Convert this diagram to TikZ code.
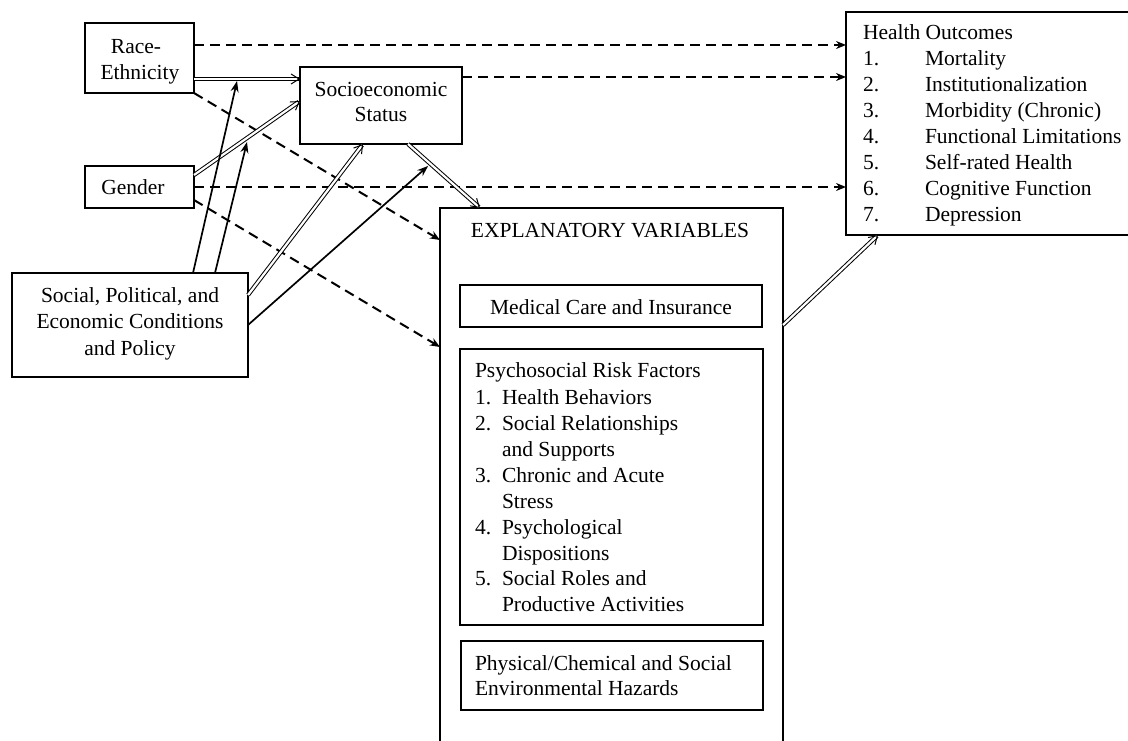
\documentclass[tikz,border=0pt]{standalone}
\usepackage{fontspec}
\setmainfont{Liberation Serif}
\usetikzlibrary{arrows.meta,calc}
\begin{document}
\begin{tikzpicture}[x=1pt,y=-1pt,
  box/.style={draw, line width=2.2pt, inner sep=0pt, outer sep=0pt},
  txt/.style={inner sep=0pt, outer sep=0pt, font=\fontsize{21.5}{26}\selectfont},
  dasharrow/.style={line width=2pt, dash pattern=on 10pt off 6pt, -{Stealth[length=10pt,width=8pt]}},
  solidarrow/.style={line width=1.7pt, -{Stealth[length=11pt,width=8pt]}},
  dblarrow/.style={double, double distance=2.2pt, line width=1pt, -{Straight Barb[length=8pt,width=10pt]}},
]
\useasboundingbox (0,0) rectangle (1128,741);
\clip (0,0) rectangle (1128,741);

% boxes
\node[box, minimum width=109pt, minimum height=70pt] (race) at (139.5,58) {};
\node[box, minimum width=109pt, minimum height=42pt] (gender) at (139.5,187) {};
\node[box, minimum width=162pt, minimum height=77pt] (ses) at (381,105.5) {};
\node[box, minimum width=236pt, minimum height=104pt] (social) at (130,325) {};
\node[box, minimum width=343pt, minimum height=592pt] (expl) at (611.5,504) {};
\node[box, minimum width=302pt, minimum height=42pt] (med) at (611,306) {};
\node[box, minimum width=303pt, minimum height=276pt] (psych) at (611.5,487) {};
\node[box, minimum width=302pt, minimum height=69pt] (phys) at (612,675.5) {};
\node[box, minimum width=300pt, minimum height=223pt] (health) at (996,123.5) {};

% texts
\node[txt, anchor=base] (raceA) at (136,54) {Race-};
\node[txt, anchor=base] (raceB) at (140,80) {Ethnicity};
\node[txt, anchor=base] (genderT) at (133,194) {Gender};
\node[txt, anchor=base] (sesA) at (381,97) {Socioeconomic};
\node[txt, anchor=base] (sesB) at (381,122) {Status};
\node[txt, anchor=base] (socA) at (130,302) {Social, Political, and};
\node[txt, anchor=base] (socB) at (130,328) {Economic Conditions};
\node[txt, anchor=base] (socC) at (130,355) {and Policy};
\node[txt, anchor=base] (explT) at (610,237) {EXPLANATORY VARIABLES};
\node[txt, anchor=base] (medT) at (611,314) {Medical Care and Insurance};

\node[txt, anchor=base west] (psT) at (475,377) {Psychosocial Risk Factors};
\node[txt, anchor=base west] (ps1) at (475,404) {1.};
\node[txt, anchor=base west] (ps1t) at (502,404) {Health Behaviors};
\node[txt, anchor=base west] (ps2) at (475,430) {2.};
\node[txt, anchor=base west] (ps2t) at (502,430) {Social Relationships};
\node[txt, anchor=base west] (ps2u) at (502,456) {and Supports};
\node[txt, anchor=base west] (ps3) at (475,482) {3.};
\node[txt, anchor=base west] (ps3t) at (502,482) {Chronic and Acute};
\node[txt, anchor=base west] (ps3u) at (502,508) {Stress};
\node[txt, anchor=base west] (ps4) at (475,534) {4.};
\node[txt, anchor=base west] (ps4t) at (502,534) {Psychological};
\node[txt, anchor=base west] (ps4u) at (502,560) {Dispositions};
\node[txt, anchor=base west] (ps5) at (475,585) {5.};
\node[txt, anchor=base west] (ps5t) at (502,585) {Social Roles and};
\node[txt, anchor=base west] (ps5u) at (502,611) {Productive Activities};

\node[txt, anchor=base west] (phA) at (475,670) {Physical/Chemical and Social};
\node[txt, anchor=base west] (phB) at (475,695) {Environmental Hazards};

\node[txt, anchor=base west] (h0) at (863,40) {Health Outcomes};
\foreach \t [count=\i] in {Mortality, Institutionalization, Morbidity (Chronic), Functional Limitations, Self-rated Health, Cognitive Function, Depression}{
  \node[txt, anchor=base west] (hn\i) at (863,40+26*\i) {\i.};
  \node[txt, anchor=base west] (ht\i) at (925,40+26*\i) {\t};
}

% connectors
\draw[dasharrow] ([yshift=13pt]race.east) coordinate (r1) -- (r1 -| health.west);
\draw[dasharrow] ([yshift=28.5pt]ses.east) coordinate (s1) -- (s1 -| health.west);
\draw[dasharrow] (gender.east) coordinate (g1) -- (g1 -| health.west);
\draw[dasharrow] (race.south east) -- ([yshift=-32pt]expl.north west);
\draw[dasharrow] ([yshift=-13pt]gender.east) -- ([yshift=-139pt]expl.north west);

\draw[dblarrow] ([yshift=-21pt]race.east) coordinate (r2) -- coordinate[pos=0.406] (rs) (r2 -| ses.west);
\draw[dblarrow] ([yshift=12pt]gender.east) -- coordinate[pos=0.5] (gs) ([yshift=4.5pt]ses.west);
\draw[dblarrow] ([yshift=30pt]social.east) -- ([xshift=63pt]ses.south west);
\draw[dblarrow] ([xshift=108pt]ses.south west) -- coordinate[pos=0.28] (se) ([xshift=40pt]expl.north west);
\draw[dblarrow] ([yshift=-117pt]expl.north east) -- ([xshift=32pt]health.south west);

\draw[solidarrow] ([xshift=181pt]social.north west) -- ([yshift=-2pt]rs);
\draw[solidarrow] ([xshift=203pt]social.north west) -- ([yshift=-4pt]gs);
\draw[solidarrow] (social.east) -- ([yshift=-4pt]se);
\end{tikzpicture}
\end{document}
